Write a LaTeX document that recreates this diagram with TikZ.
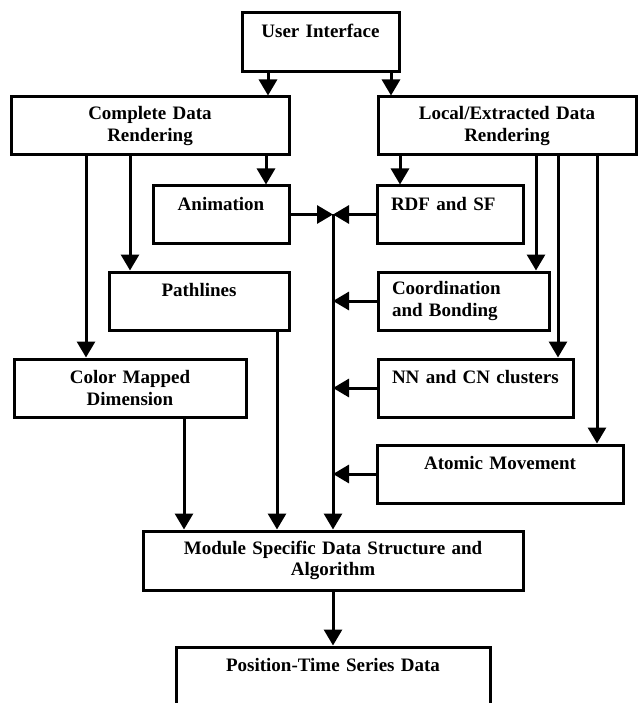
\documentclass[tikz,border=0pt]{standalone}
\usepackage{fontspec}
\setmainfont{Liberation Serif}
\usetikzlibrary{arrows.meta}
\begin{document}
\begin{tikzpicture}[x=1pt,y=-1pt,
  box/.style={draw, line width=3pt, font=\bfseries\fontsize{19}{21.5}\selectfont, inner xsep=14pt, inner ysep=0pt, align=center},
  lbox/.style={box, align=left},
  arr/.style={line width=3pt, -{Triangle[length=16pt,width=18pt]}}]
\useasboundingbox (0,0) rectangle (638,703);
\clip (0,0) rectangle (638,703);
% boxes
\node[box, text width=129pt, minimum height=59pt] (ui) at (320.5,42) {User Interface\\\mbox{}};
\node[box, text width=250pt, minimum height=58pt] (cdr) at (150,126) {Complete Data\\Rendering};
\node[box, text width=230pt, minimum height=58pt] (ldr) at (507,126) {Local/Extracted Data\\Rendering};
\node[box, text width=108pt, minimum height=57pt] (anim) at (221,214.5) {Animation\\\mbox{}};
\node[lbox, text width=118pt, minimum height=57pt] (rdf) at (450,214.5) {RDF and SF\\\mbox{}};
\node[box, text width=152pt, minimum height=58pt] (path) at (199,301) {Pathlines\\\mbox{}};
\node[lbox, text width=143pt, minimum height=58pt] (coord) at (463.5,301) {Coordination\\and Bonding};
\node[box, text width=204pt, minimum height=58pt] (color) at (130,388) {Color Mapped\\Dimension};
\node[lbox, text width=167pt, minimum height=58pt] (nn) at (475.5,388) {NN and CN clusters\\\mbox{}};
\node[box, text width=218pt, minimum height=58pt] (atom) at (500,474) {Atomic Movement\\\mbox{}};
\node[box, text width=352pt, minimum height=59pt] (mod) at (333,560.5) {Module Specific Data Structure and\\Algorithm};
\node[box, text width=286pt, minimum height=58pt] (pt) at (333,676) {Position-Time Series Data\\\mbox{}};
% helper x positions
\coordinate (xa) at (268,0);
\coordinate (xb) at (391,0);
\coordinate (xc) at (86,0);
\coordinate (xd) at (130,0);
\coordinate (xe) at (266,0);
\coordinate (xf) at (400,0);
\coordinate (xg) at (536,0);
\coordinate (xh) at (558,0);
\coordinate (xi) at (597,0);
\coordinate (xj) at (184,0);
\coordinate (xk) at (277,0);
\coordinate (bus) at (333,0);
% connectors
\draw[arr] (ui.south -| xa) -- (cdr.north -| xa);
\draw[arr] (ui.south -| xb) -- (ldr.north -| xb);
\draw[arr] (cdr.south -| xc) -- (color.north -| xc);
\draw[arr] (cdr.south -| xd) -- (path.north -| xd);
\draw[arr] (cdr.south -| xe) -- (anim.north -| xe);
\draw[arr] (ldr.south -| xf) -- (rdf.north -| xf);
\draw[arr] (ldr.south -| xg) -- (coord.north -| xg);
\draw[arr] (ldr.south -| xh) -- (nn.north -| xh);
\draw[arr] (ldr.south -| xi) -- (atom.north -| xi);
\draw[arr] (anim.east) -- (anim.east -| bus);
\draw[arr] (rdf.west) -- (rdf.west -| bus);
\draw[arr] (anim.east -| bus) -- (mod.north -| bus);
\draw[arr] (coord.west) -- (coord.west -| bus);
\draw[arr] (nn.west) -- (nn.west -| bus);
\draw[arr] (atom.west) -- (atom.west -| bus);
\draw[arr] (color.south -| xj) -- (mod.north -| xj);
\draw[arr] (path.south -| xk) -- (mod.north -| xk);
\draw[arr] (mod.south -| bus) -- (pt.north -| bus);
\end{tikzpicture}
\end{document}
